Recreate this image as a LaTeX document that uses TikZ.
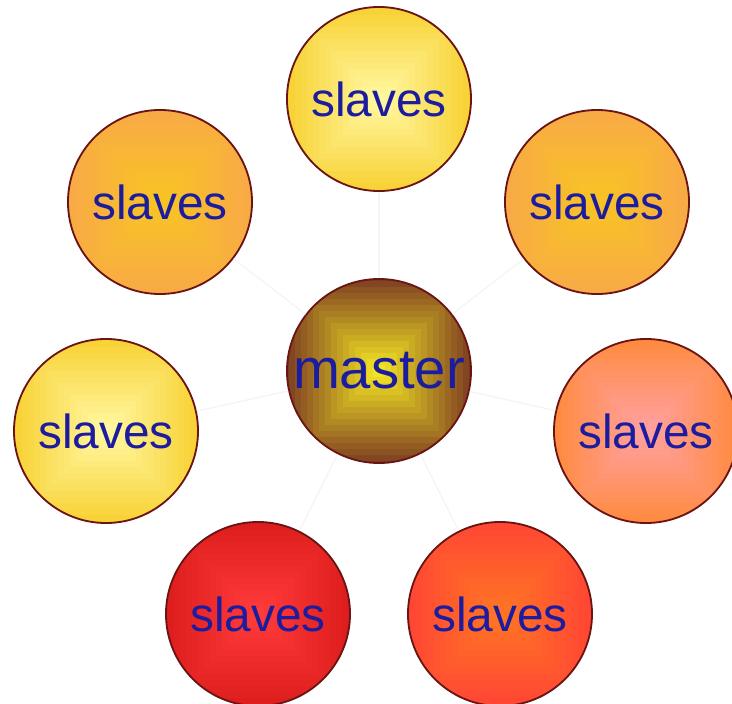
\documentclass[tikz,border=0pt]{standalone}
\usepackage{fontspec}
\setmainfont{Liberation Sans}
\definecolor{rim}{HTML}{6A1414}
\definecolor{ink}{HTML}{1C1C9E}
\definecolor{paleyellow}{HTML}{FFF7A0}
\definecolor{gold}{HTML}{F8D030}
\definecolor{amber}{HTML}{F8C424}
\definecolor{peach}{HTML}{F8A848}
\definecolor{brown}{HTML}{7A3A22}
\definecolor{lemon}{HTML}{F2E424}
\definecolor{pink}{HTML}{FFA0A0}
\definecolor{tangerine}{HTML}{FF8A3C}
\definecolor{flame}{HTML}{FF7424}
\definecolor{scarlet}{HTML}{FF4434}
\definecolor{brightred}{HTML}{FF3A3A}
\definecolor{deepred}{HTML}{DC1C1C}
\tikzset{
  ball/.style 2 args={circle, draw=rim, line width=1.3pt, minimum size=4.6cm,
    inner sep=0pt, text=ink, font=\fontsize{34}{34}\selectfont,
    path picture={
      \foreach \k in {16,15,...,1}{
        \pgfmathtruncatemacro\p{100*(\k-1)/15}
        \fill[#2!\p!#1]
          ([shift={(-\k*0.15cm,-\k*0.15cm)}]path picture bounding box.center)
          rectangle ([shift={(\k*0.15cm,\k*0.15cm)}]path picture bounding box.center);
      }}},
  link/.style={black!4, line width=1pt}
}
\begin{document}
\begin{tikzpicture}[x=0.025cm, y=-0.025cm]
\useasboundingbox (0,0) rectangle (732,704);
\node[ball={lemon}{brown}, font=\fontsize{40}{40}\selectfont] (master) at (379,371) {master};
\node[ball={paleyellow}{gold}] (top) at (379,99) {slaves};
\node[ball={amber}{peach}] (upleft) at (160,202) {slaves};
\node[ball={amber}{peach}] (upright) at (597,202) {slaves};
\node[ball={paleyellow}{gold}] (left) at (106,431) {slaves};
\node[ball={pink}{tangerine}] (right) at (646,431) {slaves};
\node[ball={brightred}{deepred}] (downleft) at (258,614) {slaves};
\node[ball={flame}{scarlet}] (downright) at (500,614) {slaves};
% faint links
\foreach \s in {top,upleft,upright,left,right,downleft,downright}
  \draw[link] (master) -- (\s);
\end{tikzpicture}
\end{document}
